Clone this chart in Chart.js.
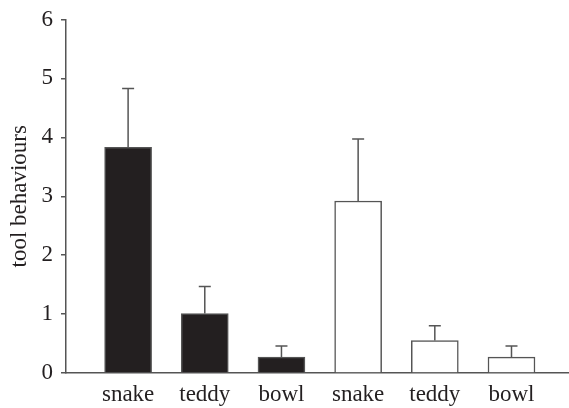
<!DOCTYPE html>
<html><head><meta charset="utf-8">
<script src="https://cdn.jsdelivr.net/npm/chart.js@4/dist/chart.umd.min.js"></script>
<style>html,body{margin:0;padding:0;background:#fff}#wrap{width:569px;height:408px}</style>
</head><body><div id="wrap"><canvas id="c" width="569" height="408"></canvas></div>
<script>
const categories = ['snake','teddy','bowl','snake','teddy','bowl'];
const means = [3.83, 1.01, 0.27, 2.92, 0.55, 0.27];
const errTop = [4.83, 1.47, 0.46, 3.97, 0.80, 0.46];
const yTicks = [0,1,2,3,4,5,6];
const fills = ['#231f20','#231f20','#231f20','#ffffff','#ffffff','#ffffff'];

const errPlugin = {
  id: 'err',
  afterDatasetsDraw(chart){
    const ctx = chart.ctx, xs = chart.scales.x, ys = chart.scales.y;
    ctx.save();
    ctx.strokeStyle = '#555';
    ctx.lineWidth = 1.5;
    errTop.forEach((e,i)=>{
      const x = xs.getPixelForValue(i);
      const y0 = ys.getPixelForValue(means[i]);
      const y1 = ys.getPixelForValue(e);
      ctx.beginPath();
      ctx.moveTo(x, y0); ctx.lineTo(x, y1);
      ctx.moveTo(x-6, y1); ctx.lineTo(x+6, y1);
      ctx.stroke();
    });
    ctx.restore();
  }
};

new Chart(document.getElementById('c'), {
  type: 'bar',
  data: {
    datasets: [{
      data: means.map((v,i)=>({x:i, y:v})),
      backgroundColor: fills,
      borderColor: '#555',
      borderWidth: 1.5,
      barThickness: 47
    }]
  },
  options: {
    responsive: false,
    animation: false,
    layout: {padding: {top: 19, right: 0, left: 0, bottom: 0}},
    plugins: {legend: {display: false}, tooltip: {enabled: false}},
    scales: {
      x: {
        type: 'linear',
        offset: false,
        min: -0.81, max: 5.75,
        afterBuildTicks(s){ s.ticks = categories.map((c,i)=>({value:i})); },
        ticks: {
          callback: (v)=> categories[v] ?? '',
          color: '#231f20',
          font: {family: 'Liberation Serif', size: 23},
          padding: 8,
          maxRotation: 0, autoSkip: false
        },
        grid: {offset: false, drawOnChartArea: false, drawTicks: false},
        border: {color: '#555', width: 1.5},
        afterFit(s){ s.height = 35; }
      },
      y: {
        min: 0, max: 6,
        afterBuildTicks(s){ s.ticks = yTicks.map(v=>({value:v})); },
        ticks: {
          color: '#231f20',
          font: {family: 'Liberation Serif', size: 23, lineHeight: 1},
          padding: 8
        },
        grid: {drawOnChartArea: false, drawTicks: true, tickLength: 5, color: '#555', lineWidth: 1.5},
        border: {color: '#555', width: 1.5},
        title: {display: true, text: 'tool behaviours', color: '#231f20',
                font: {family: 'Liberation Serif', size: 23}, padding: {top: 6, bottom: 0}},
        afterFit(s){ s.width = 66; }
      }
    }
  },
  plugins: [errPlugin]
});
</script></body></html>
